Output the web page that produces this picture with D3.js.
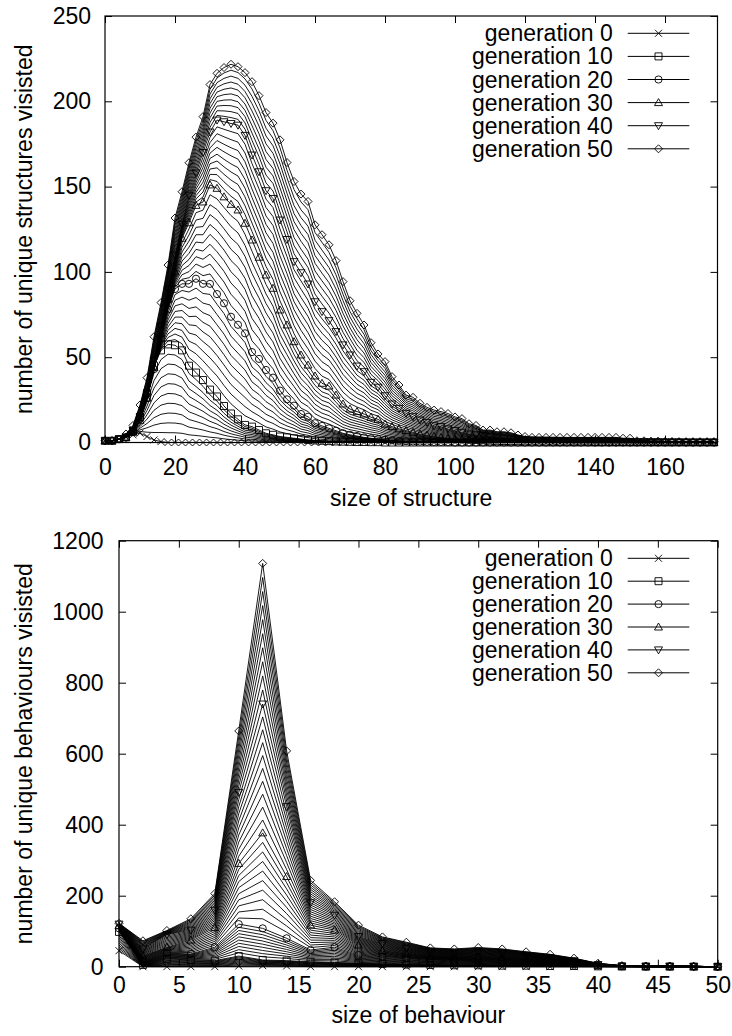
<!DOCTYPE html>
<html>
<head>
<meta charset="utf-8">
<script src="https://cdn.jsdelivr.net/npm/d3@7"></script>
<style>
  body { margin: 0; background: #fff; }
  text { font-family: "Liberation Sans", Arial, sans-serif; fill: #000; }
</style>
</head>
<body>
<div id="chart"></div>
<script>
// ---- data ----

// size of structure (x), one point every 2
var structSizes = [0,2,4,6,8,10,12,14,16,18,20,22,24,26,28,30,32,34,36,38,40,42,44,46,48,50,52,54,56,58,
  60,62,64,66,68,70,72,74,76,78,80,82,84,86,88,90,92,94,96,98,100,102,104,106,108,110,112,114,116,118,
  120,122,124,126,128,130,132,134,136,138,140,142,144,146,148,150,152,154,156,158,160,162,164,166,168,170,172,174];

var structGen0 = [1,1,2,3,4.5,5.5,3.5,1.5,0.5,0, 0,0,0,0,0,0,0,0,0,0, 0,0,0,0,0,0,0,0,0,0,
  0,0,0,0,0,0,0,0,0,0, 0,0,0,0,0,0,0,0,0,0, 0,0,0,0,0,0,0,0,0,0, 0,0,0,0,0,0,0,0,0,0,
  0,0,0,0,0,0,0,0,0,0, 0,0,0,0,0,0,0,0];
var structGen10 = [1,1,2,3,7,15,29,45,54,57.5, 57,54,45,41,36.6,31,27,21.4,17,13.6,
  10.3,9.3,7.3,5.4,4.5,3.5,3,2.5,2,1.5, 1.2,1,0.8,0.6,0.5,0.4,0.3,0.3,0.2,0.2,
  0,0,0,0,0,0,0,0,0,0, 0,0,0,0,0,0,0,0,0,0, 0,0,0,0,0,0,0,0,0,0, 0,0,0,0,0,0,0,0,0,0, 0,0,0,0,0,0,0,0];
var structGen20 = [1,1,2,3,6,14,26,43,61,78, 90,93,93,96,93,93,87,81.6,73.7,69,
  64,53,49,42.5,38,30.4,25.3,21.6,16.7,15.1, 11.3,9.7,8.3,6.9,5.4,4.5,3.8,3,2.5,2,
  1.6,1.3,1,0.8,0.6,0.5,0.4,0.3,0.3,0.2, 0,0,0,0,0,0,0,0,0,0, 0,0,0,0,0,0,0,0,0,0,
  0,0,0,0,0,0,0,0,0,0, 0,0,0,0,0,0,0,0];
var structGen30 = [1,1,2,3,6,13,26,44,64,84, 100,119.7,128.8,139,141,151,149,144,139.6,136.3,
  128.5,118.7,108.6,98.2,90.4,77.7,68.9,59.1,51.3,45.4, 39,34.7,33.1,27.8,22.6,19.6,18.1,16.7,14.8,13.6,
  10.8,9.3,8,7,6,5,4.3,3.6,3,2.5, 2,1.7,1.4,1.2,1,0.8,0.7,0.6,0.5,0.5,
  0.4,0.4,0.3,0.3,0.3,0.2,0.2,0.2,0.2,0.2, 0,0,0,0,0,0,0,0,0,0, 0,0,0,0,0,0,0,0];
var structGen40 = [1,1,2,3,7,15,28,48,68,90, 110,128,145,158,170,182,189,188,187,186,
  180,168.5,158.7,147.6,143,130.4,119,106,99.5,92.9, 82.5,76.7,71.4,65,57.2,51.3,44.8,41.5,35.3,32.4,
  27.4,22.6,20,17.1,15.1,13.2,11.8,9.8,9.3,8, 7,6,5,4.5,4,3.5,3,2.5,2.2,2,
  1.8,1.6,1.5,1.4,1.3,1.2,1.1,1,1,0.9, 0.8,0.8,0.7,0.7,0.6,0.6,0.5,0.5,0.4,0.4,
  0.3,0.3,0.3,0.2,0.2,0.2,0.2,0.2];
var structGen50 = [1,1,2,5,10,22,38,62,82,104, 131.6,147,164,179,191,209.8,216.4,219.8,221.7,220.3,
  216.8,211.5,203.3,193.4,187.2,177.4,164.1,153,145.6,141.3, 127.6,121.8,115.9,106.6,94.3,83.1,75.7,68.9,58.5,51.9,
  47.4,38.6,33.7,27.8,26.5,23,20.6,19,18.1,17, 15,14,11,10,7.3,7.3,6.3,6.3,5.7,4.4,
  3.5,3,3,3,3,3,3,3,3,3, 3,3,3,3,2.5,2.5,1,1,0.8,0.8,
  0.6,0.6,0.5,0.5,0.5,0.5,0.5,0.5];

// size of behaviour (x), one point every 2
var behavSizes = [0,2,4,6,8,10,12,14,16,18,20,22,24,26,28,30,32,34,36,38,40,42,44,46,48,50];

var behavGen0  = [45,0,0,0,0,2,3,2,0,0,0,0,0,0,0,0,0,0,0,0,0,0,0,0,0,0];
var behavGen10 = [98,5,22,19,17,30,19,17,14,12,10,8,6,5,4,4,3,3,2,2,1,0.5,0,0,0,0];
var behavGen20 = [108,15,38,36,55,120,108,80,47,55,33,28,24,20,18,17,15,12,10,6,3,1,0.5,0.5,0.5,0];
var behavGen30 = [115,30,55,75,110,291,377,254,117,103,61,45,37,30,27,28,26,21,17,11,4,1.5,1,1,0.5,0];
var behavGen40 = [120,50,90,103,159,491,740,451,180,145,85,65,52,42,38,41,38,32,25,17,6,2,1.5,1.5,1,0];
var behavGen50 = [122,73,102,135,206,664,1136,608,243,183,117,84,69,53,50,54,50,42,35,24,9.5,3,2,2,1,0];

var markedGens = [0, 10, 20, 30, 40, 50];
var legendLabels = ["generation 0", "generation 10", "generation 20", "generation 30", "generation 40", "generation 50"];
var markerTypes = ["times", "square", "circle", "triangleUp", "triangleDown", "diamond"];

var structTicksX = [0,20,40,60,80,100,120,140,160];
var structTicksY = [0,50,100,150,200,250];
var behavTicksX = [0,5,10,15,20,25,30,35,40,45,50];
var behavTicksY = [0,200,400,600,800,1000,1200];

// ---- page ----
var svgWidth = 732;
var svgHeight = 1036;
var fontSize = 23;

var svg = d3.select("#chart")
  .append("svg")
  .attr("width", svgWidth)
  .attr("height", svgHeight);

// marker shapes, gnuplot style
function markerPath(type) {
  switch (type) {
    case "times": return "M-3.5,-3.5L3.5,3.5M-3.5,3.5L3.5,-3.5";
    case "square": return "M-3.5,-3.5H3.5V3.5H-3.5Z";
    case "circle": return "M3.6,0A3.6,3.6 0 1,1 -3.6,0A3.6,3.6 0 1,1 3.6,0Z";
    case "triangleUp": return "M0,-4L4,3H-4Z";
    case "triangleDown": return "M0,4L4,-3H-4Z";
    case "diamond": return "M0,-4L4,0L0,4L-4,0Z";
  }
}

function drawPanel(opts) {
  var x = d3.scaleLinear().domain(opts.xDomain).range([opts.left, opts.right]);
  var y = d3.scaleLinear().domain(opts.yDomain).range([opts.bottom, opts.top]);
  var g = svg.append("g");

  // all generations 0..50; the ones between two marked generations are
  // drawn between their neighbours
  var keys = opts.series;
  var allGens = d3.range(0, 51);
  var line = d3.line()
    .x(function(d, i) { return x(opts.xs[i]); })
    .y(function(d) { return y(d); });

  var lines = g.append("g");
  allGens.forEach(function(gen) {
    var k = Math.min(Math.floor(gen / 10), 4);
    var t = (gen - k * 10) / 10;
    var vals = d3.interpolateNumberArray(keys[k], keys[k + 1])(t);
    lines.append("path")
      .attr("d", line(Array.from(vals)))
      .attr("fill", "none")
      .attr("stroke", "#000")
      .attr("stroke-width", 0.9);
  });

  // markers for the labelled generations
  keys.forEach(function(vals, s) {
    g.append("g").selectAll("path")
      .data(vals)
      .enter()
      .append("path")
      .attr("transform", function(d, i) { return "translate(" + x(opts.xs[i]) + "," + y(d) + ")"; })
      .attr("d", markerPath(markerTypes[s]))
      .attr("fill", "none")
      .attr("stroke", "#000")
      .attr("stroke-width", 0.9);
  });

  // axes with inward ticks, mirrored on top and right
  var axB = g.append("g")
    .attr("transform", "translate(0," + opts.bottom + ")")
    .call(d3.axisBottom(x).tickValues(opts.ticksX).tickSizeInner(-7).tickSizeOuter(0)
      .tickPadding(opts.xPad).tickFormat(d3.format("d")));
  var axT = g.append("g")
    .attr("transform", "translate(0," + opts.top + ")")
    .call(d3.axisTop(x).tickValues(opts.ticksX).tickSizeInner(-7).tickSizeOuter(0).tickFormat(""));
  var axL = g.append("g")
    .attr("transform", "translate(" + opts.left + ",0)")
    .call(d3.axisLeft(y).tickValues(opts.ticksY).tickSizeInner(-7).tickSizeOuter(0)
      .tickPadding(opts.yPad).tickFormat(d3.format("d")));
  var axR = g.append("g")
    .attr("transform", "translate(" + opts.right + ",0)")
    .call(d3.axisRight(y).tickValues(opts.ticksY).tickSizeInner(-7).tickSizeOuter(0).tickFormat(""));

  [axB, axT, axL, axR].forEach(function(a) {
    a.select(".domain").remove();
    a.selectAll("line").attr("stroke", "#000");
    a.selectAll("text")
      .attr("font-family", "Liberation Sans, Arial, sans-serif")
      .attr("font-size", fontSize)
      .attr("fill", "#000");
  });

  g.append("rect")
    .attr("x", opts.left)
    .attr("y", opts.top)
    .attr("width", opts.right - opts.left)
    .attr("height", opts.bottom - opts.top)
    .attr("fill", "none")
    .attr("stroke", "#000")
    .attr("stroke-width", 1.2);

  // axis titles
  g.append("text")
    .attr("x", (opts.left + opts.right) / 2)
    .attr("y", opts.xTitleY)
    .attr("text-anchor", "middle")
    .attr("font-size", fontSize)
    .text(opts.xTitle);

  g.append("text")
    .attr("transform", "translate(" + opts.yTitleX + "," + (opts.top + opts.bottom) / 2 + ") rotate(-90)")
    .attr("text-anchor", "middle")
    .attr("font-size", fontSize)
    .text(opts.yTitle);

  // legend
  var leg = g.append("g");
  legendLabels.forEach(function(label, i) {
    var ly = opts.legendTop + i * opts.legendStep;
    leg.append("text")
      .attr("x", 612.7)
      .attr("y", ly)
      .attr("dy", "0.35em")
      .attr("text-anchor", "end")
      .attr("font-size", fontSize)
      .text(label);
    leg.append("line")
      .attr("x1", 627.7).attr("x2", 689.3)
      .attr("y1", ly).attr("y2", ly)
      .attr("stroke", "#000")
      .attr("stroke-width", 1);
    leg.append("path")
      .attr("transform", "translate(658.5," + ly + ")")
      .attr("d", markerPath(markerTypes[i]))
      .attr("fill", "none")
      .attr("stroke", "#000")
      .attr("stroke-width", 0.9);
  });
}

drawPanel({
  left: 105, right: 717.5, top: 16, bottom: 442.5,
  xDomain: [0, 175], yDomain: [0, 250],
  xs: structSizes,
  series: [structGen0, structGen10, structGen20, structGen30, structGen40, structGen50],
  ticksX: structTicksX, ticksY: structTicksY,
  xPad: 16, yPad: 14,
  xTitle: "size of structure", xTitleY: 506,
  yTitle: "number of unique structures visisted", yTitleX: 32,
  legendTop: 33.3, legendStep: 23.1
});

drawPanel({
  left: 119, right: 717.7, top: 540.7, bottom: 966.7,
  xDomain: [0, 50], yDomain: [0, 1200],
  xs: behavSizes,
  series: [behavGen0, behavGen10, behavGen20, behavGen30, behavGen40, behavGen50],
  ticksX: behavTicksX, ticksY: behavTicksY,
  xPad: 9.5, yPad: 15.5,
  xTitle: "size of behaviour", xTitleY: 1023,
  yTitle: "number of unique behaviours visisted", yTitleX: 32,
  legendTop: 558.3, legendStep: 22.9
});
</script>
</body>
</html>
